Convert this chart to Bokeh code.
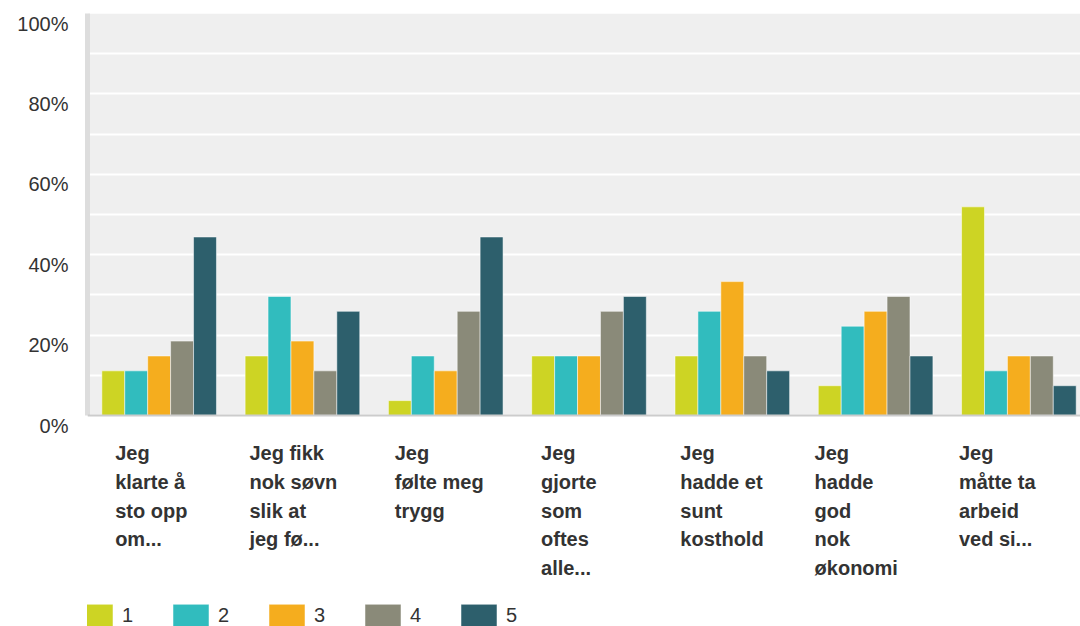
from bokeh.plotting import figure
from bokeh.models import (Range1d, LinearAxis, FixedTicker, Span, BoxAnnotation, Legend,
                          LegendItem, ColumnDataSource, Grid, PrintfTickFormatter)
from bokeh.transform import dodge
from bokeh.core.properties import value
from bokeh.embed import file_html
from bokeh.resources import INLINE

# ---- data ----
categories = [
    "Jeg\nklarte å\nsto opp\nom...",
    "Jeg fikk\nnok søvn\nslik at\njeg fø...",
    "Jeg\nfølte meg\ntrygg",
    "Jeg\ngjorte\nsom\noftes\nalle...",
    "Jeg\nhadde et\nsunt\nkosthold",
    "Jeg\nhadde\ngod\nnok\nøkonomi",
    "Jeg\nmåtte ta\narbeid\nved si...",
]
series_names = ["1", "2", "3", "4", "5"]
s1 = [11.1, 14.8, 3.7, 14.8, 14.8, 7.4, 51.9]
s2 = [11.1, 29.6, 14.8, 14.8, 25.9, 22.2, 11.1]
s3 = [14.8, 18.5, 11.1, 14.8, 33.3, 25.9, 14.8]
s4 = [18.5, 11.1, 25.9, 25.9, 14.8, 29.6, 14.8]
s5 = [44.4, 25.9, 44.4, 29.6, 11.1, 14.8, 7.4]
y_ticks = [0, 20, 40, 60, 80, 100]
grid_ticks = [0, 10, 20, 30, 40, 50, 60, 70, 80, 90, 100]

# ---- styles ----
colors = ["#cdd424", "#31bcbe", "#f5ad1e", "#8a8a79", "#2d5f6c"]
label_x_offsets = [-44, -53, -51, -48, -52, -61, -60]
FONT = "Liberation Sans"
TXT = "#333333"

series = [s1, s2, s3, s4, s5]
src = ColumnDataSource(dict(
    x=list(range(len(categories))),
    labels=categories,
    xoff=label_x_offsets,
    **{"s%d" % (i + 1): s for i, s in enumerate(series)}
))

p = figure(width=1080, height=626,
           x_range=Range1d(-0.5, 6.43), y_range=Range1d(-52.5, 100),
           x_axis_location=None, y_axis_location=None,
           output_backend="svg", toolbar_location=None,
           min_border_left=87, min_border_right=0, min_border_top=13, min_border_bottom=0,
           background_fill_color="white", border_fill_color="white",
           outline_line_color=None)
p.xgrid.visible = False
p.ygrid.visible = False

# plot background (only over the value area)
p.add_layout(BoxAnnotation(bottom=0, top=100, fill_color="#efefef", fill_alpha=1,
                           line_color=None, level="image"))
p.add_layout(Grid(dimension=1, ticker=FixedTicker(ticks=grid_ticks), bounds=(0, 100),
                  grid_line_color="white", grid_line_width=2))

# y axis with labels sitting slightly below their gridlines
p.extra_y_ranges = {"lab": Range1d(-50, 102.5)}
yax = LinearAxis(y_range_name="lab", ticker=FixedTicker(ticks=y_ticks),
                 formatter=PrintfTickFormatter(format="%d%%"), bounds=(2.5, 102.5))
yax.axis_line_color = "#dddddd"
yax.axis_line_width = 5
yax.major_tick_line_color = None
yax.minor_tick_line_color = None
yax.major_tick_out = 0
yax.major_tick_in = 0
yax.major_label_standoff = 19
yax.major_label_text_font = FONT
yax.major_label_text_font_size = "20px"
yax.major_label_text_color = TXT
p.add_layout(yax, "left")

items = []
bw = 0.16
for j, name in enumerate(series_names):
    r = p.vbar(x=dodge("x", (j - 2) * bw, range=p.x_range), top="s%d" % (j + 1), bottom=0,
               width=bw, source=src, fill_color=colors[j], line_color="white",
               line_alpha=0.5, line_width=1)
    items.append(LegendItem(label=name, renderers=[r]))

p.add_layout(Span(location=0, dimension="width", line_color="#cccccc", line_width=2))

p.text(x="x", y=0, text="labels", source=src, x_offset="xoff", y_offset=27,
       text_align="left", text_baseline="top", text_font=value(FONT),
       text_font_style="bold", text_font_size="20px", text_color=TXT,
       text_line_height=1.3)

legend = Legend(items=items, orientation="horizontal", location=(-15, -3),
                glyph_width=45, glyph_height=28, label_standoff=5, spacing=26,
                padding=0, margin=0, border_line_color=None,
                background_fill_alpha=0, label_text_font=FONT,
                label_text_font_size="20px", label_text_color=TXT)
p.add_layout(legend, "center")

open("out.html", "w").write(file_html(p, INLINE))
